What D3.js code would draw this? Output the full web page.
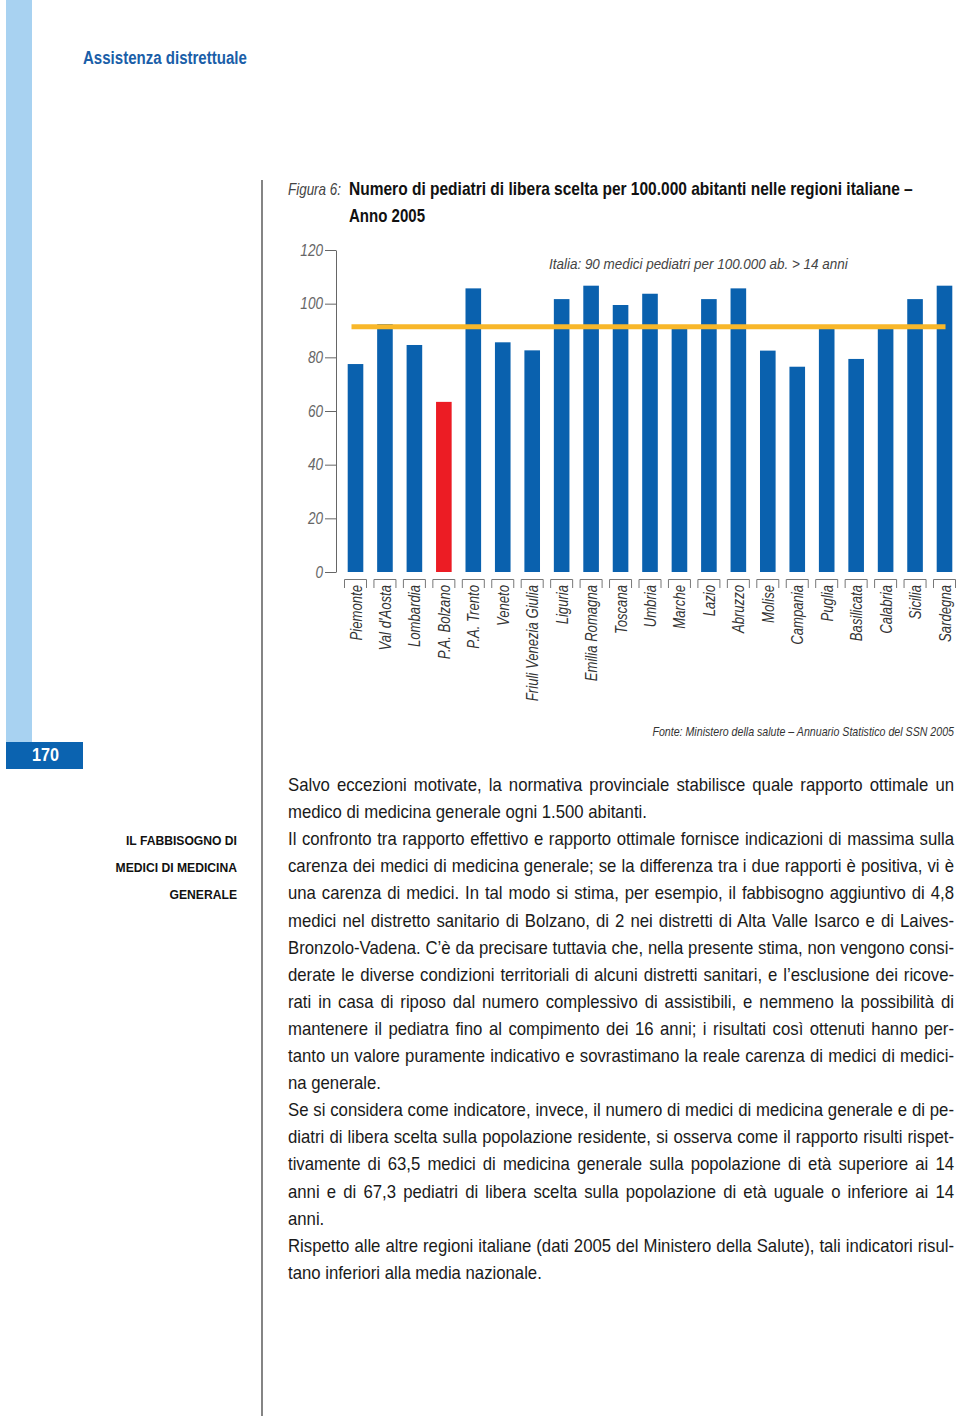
<!DOCTYPE html>
<html>
<head>
<meta charset="utf-8">
<script src="https://cdn.jsdelivr.net/npm/d3@7"></script>
<style>
  html, body { margin: 0; padding: 0; background: #fff; }
  svg { display: block; }
  text { font-family: "Liberation Sans", Arial, sans-serif; }
</style>
</head>
<body>
<svg id="page" width="960" height="1420"></svg>
<script>
// ---- Data ----
const categories = ["Piemonte","Val d'Aosta","Lombardia","P.A. Bolzano","P.A. Trento","Veneto",
  "Friuli Venezia Giulia","Liguria","Emilia Romagna","Toscana","Umbria","Marche","Lazio",
  "Abruzzo","Molise","Campania","Puglia","Basilicata","Calabria","Sicilia","Sardegna"];
const values = [77.5, 92.4, 84.6, 63.4, 105.7, 85.6, 82.6, 101.7, 106.7, 99.5, 103.7, 90.7,
  101.7, 105.7, 82.5, 76.5, 90.7, 79.4, 90.7, 101.7, 106.7];
const highlighted = ["P.A. Bolzano"];
const italiaRef = 91.4;
const yTicks = [0, 20, 40, 60, 80, 100, 120];

const bodyLines = [
  ["Salvo eccezioni motivate, la normativa provinciale stabilisce quale rapporto ottimale un", true],
  ["medico di medicina generale ogni 1.500 abitanti.", false],
  ["Il confronto tra rapporto effettivo e rapporto ottimale fornisce indicazioni di massima sulla", true],
  ["carenza dei medici di medicina generale; se la differenza tra i due rapporti è positiva, vi è", true],
  ["una carenza di medici. In tal modo si stima, per esempio, il fabbisogno aggiuntivo di 4,8", true],
  ["medici nel distretto sanitario di Bolzano, di 2 nei distretti di Alta Valle Isarco e di Laives-", true],
  ["Bronzolo-Vadena. C’è da precisare tuttavia che, nella presente stima, non vengono consi-", true],
  ["derate le diverse condizioni territoriali di alcuni distretti sanitari, e l’esclusione dei ricove-", true],
  ["rati in casa di riposo dal numero complessivo di assistibili, e nemmeno la possibilità di", true],
  ["mantenere il pediatra fino al compimento dei 16 anni; i risultati così ottenuti hanno per-", true],
  ["tanto un valore puramente indicativo e sovrastimano la reale carenza di medici di medici-", true],
  ["na generale.", false],
  ["Se si considera come indicatore, invece, il numero di medici di medicina generale e di pe-", true],
  ["diatri di libera scelta sulla popolazione residente, si osserva come il rapporto risulti rispet-", true],
  ["tivamente di 63,5 medici di medicina generale sulla popolazione di età superiore ai 14", true],
  ["anni e di 67,3 pediatri di libera scelta sulla popolazione di età uguale o inferiore ai 14", true],
  ["anni.", false],
  ["Rispetto alle altre regioni italiane (dati 2005 del Ministero della Salute), tali indicatori risul-", true],
  ["tano inferiori alla media nazionale.", false]
];
const sideLines = ["IL FABBISOGNO DI", "MEDICI DI MEDICINA", "GENERALE"];

// ---- Helpers: horizontally condensed text (no condensed font installed) ----
function ctext(parent, X, Y, str, sx, attrs) {
  const t = parent.append("text").attr("transform", `translate(${X},${Y}) scale(${sx},1)`).text(str);
  Object.entries(attrs || {}).forEach(([k, v]) => t.attr(k, v));
  return t;
}
function fitText(parent, X, Y, str, width, attrs) {
  const t = ctext(parent, X, Y, str, 1, attrs);
  const w = t.node().getComputedTextLength();
  t.attr("transform", `translate(${X},${Y}) scale(${width / w},1)`);
  return t;
}

// ---- Page ----
const svg = d3.select("#page");
const BLUE = "#0a61ae", RED = "#ec1c24", YELLOW = "#f8b72a";

svg.append("rect").attr("x", 6).attr("y", 0).attr("width", 26).attr("height", 742).attr("fill", "#a8d2f1");
svg.append("rect").attr("x", 6).attr("y", 742).attr("width", 77).attr("height", 27).attr("fill", "#0b63b0");
fitText(svg, 45.5, 761, "170", 27, {"text-anchor": "middle", fill: "#fff", "font-weight": "bold", "font-size": 18});
fitText(svg, 83, 64, "Assistenza distrettuale", 164, {fill: "#1a5ea8", "font-weight": "bold", "font-size": 19});
svg.append("line").attr("x1", 262).attr("x2", 262).attr("y1", 180).attr("y2", 1416)
  .attr("stroke", "#333").attr("stroke-width", 1.2);

// title
fitText(svg, 288, 195, "Figura 6:", 53, {fill: "#444", "font-style": "italic", "font-size": 16});
fitText(svg, 349, 195, "Numero di pediatri di libera scelta per 100.000 abitanti nelle regioni italiane –", 564,
  {fill: "#111", "font-weight": "bold", "font-size": 18});
fitText(svg, 349, 222, "Anno 2005", 76, {fill: "#111", "font-weight": "bold", "font-size": 18});

// ---- Chart ----
const y = d3.scaleLinear().domain([0, 120]).range([572, 250]);
const x = d3.scalePoint().domain(categories).range([355.5, 944.5]);
const bw = x.step() * 0.53;
const TSX = 0.85;

const yAxis = d3.axisLeft(y).tickValues(yTicks).tickSize(11).tickPadding(2).tickSizeOuter(0);
const ga = svg.append("g").attr("transform", "translate(336,0)").call(yAxis);
ga.attr("font-family", null).attr("font-size", null);
ga.select(".domain").attr("stroke", "#666");
ga.selectAll(".tick line").attr("stroke", "#666");
ga.selectAll(".tick text")
  .attr("transform", `scale(${TSX},1)`).attr("x", -13 / TSX)
  .attr("font-size", 16).attr("font-style", "italic").attr("fill", "#666");

svg.append("g").selectAll("rect").data(categories).join("rect")
  .attr("x", d => x(d) - bw / 2)
  .attr("width", bw)
  .attr("y", (d, i) => y(values[i]))
  .attr("height", (d, i) => y(0) - y(values[i]))
  .attr("fill", d => highlighted.includes(d) ? RED : BLUE);

svg.append("line")
  .attr("x1", x(categories[0]) - 4).attr("x2", x(categories[categories.length - 1]) + 1)
  .attr("y1", y(italiaRef)).attr("y2", y(italiaRef))
  .attr("stroke", YELLOW).attr("stroke-width", 5);

fitText(svg, 549, 269, "Italia: 90 medici pediatri per 100.000 ab. > 14 anni", 299,
  {fill: "#444", "font-style": "italic", "font-size": 15.5});

const LSX = 0.82;
const gl = svg.append("g").selectAll("g").data(categories).join("g");
gl.append("path")
  .attr("d", d => `M${x(d) - 11},588V579.5H${x(d) + 11}V588`)
  .attr("fill", "none").attr("stroke", "#777").attr("stroke-width", 1);
gl.append("text")
  .attr("transform", d => `translate(${x(d) + 6},585) rotate(-90) scale(${LSX},1)`)
  .attr("text-anchor", "end").attr("font-style", "italic").attr("font-size", 16).attr("fill", "#333")
  .text(d => d);

fitText(svg, 954, 736, "Fonte: Ministero della salute – Annuario Statistico del SSN 2005", 302,
  {"text-anchor": "end", fill: "#333", "font-style": "italic", "font-size": 12.5});

// sidebar
const SSX = 0.9;
sideLines.forEach((s, i) => ctext(svg, 237, 845 + i * 27, s, SSX,
  {"text-anchor": "end", "font-weight": "bold", "font-size": 13.5, fill: "#111"}));

// body text, justified via word-spacing
const LEFT = 288, WIDTH = 666, BSX = 0.905;
bodyLines.forEach((d, i) => {
  const t = ctext(svg, LEFT, 791 + i * 27.1, d[0], BSX, {"font-size": 18.5, fill: "#1a1a1a"});
  if (d[1]) {
    const w = t.node().getComputedTextLength();
    const spaces = (d[0].match(/ /g) || []).length;
    if (spaces) t.attr("word-spacing", (WIDTH / BSX - w) / spaces);
  }
});
</script>
</body>
</html>
